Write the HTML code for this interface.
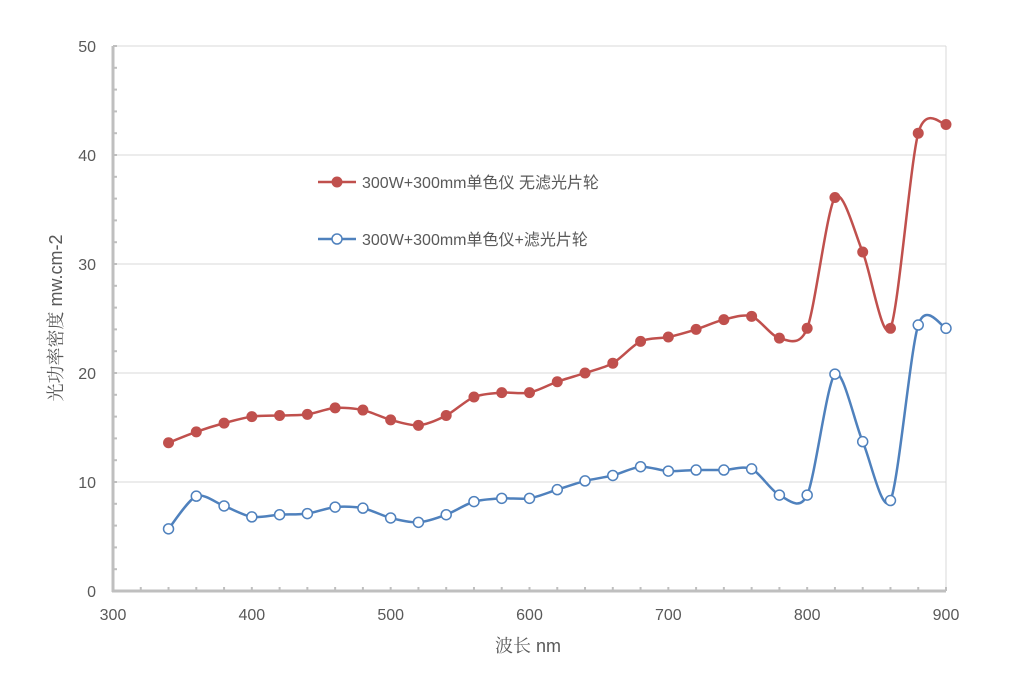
<!DOCTYPE html>
<html><head><meta charset="utf-8"><style>
body{margin:0;background:#fff;}
svg text{font-family:"Liberation Sans","Noto Sans CJK SC",sans-serif;fill:#595959;}
svg text.serif{font-family:"Liberation Sans","Noto Serif CJK SC",serif;}
</style></head><body>
<svg id="s" width="1025" height="677" xmlns="http://www.w3.org/2000/svg">
<rect width="1025" height="677" fill="#fff"/>
<g id="grid" stroke="#d9d9d9" stroke-width="1"></g>
<line x1="946" y1="46" x2="946" y2="591" stroke="#d9d9d9"/>
<g id="axes"></g>
<g id="series"></g>
<g font-size="16" text-anchor="end" id="ylab"></g>
<g font-size="16" text-anchor="middle" id="xlab"></g>
<text class="serif" x="528" y="652" font-size="18" text-anchor="middle">波长 nm</text>
<text class="serif" transform="translate(62,318) rotate(-90)" font-size="18" text-anchor="middle">光功率密度 mw.cm-2</text>
<line x1="318" y1="182" x2="356" y2="182" stroke="#c0504d" stroke-width="2.5"/>
<circle cx="337" cy="182" r="5.5" fill="#c0504d"/>
<text x="362" y="188" font-size="16">300W+300mm单色仪  无滤光片轮</text>
<line x1="318" y1="239" x2="356" y2="239" stroke="#4f81bd" stroke-width="2.5"/>
<circle cx="337" cy="239" r="5" fill="#fff" stroke="#4f81bd" stroke-width="1.5"/>
<text x="362" y="245" font-size="16">300W+300mm单色仪+滤光片轮</text>
</svg>
<script>
const X=v=>113+(v-300)*833/600, Y=v=>591-v*10.9;
const NS="http://www.w3.org/2000/svg";
function el(p,t,a){const e=document.createElementNS(NS,t);for(const k in a)e.setAttribute(k,a[k]);document.getElementById(p).appendChild(e);return e;}
for(let v=10;v<=50;v+=10)el("grid","line",{x1:113,x2:946,y1:Y(v),y2:Y(v)});
for(let v=0;v<=50;v+=10){const t=el("ylab","text",{x:96,y:Y(v)+6});t.textContent=v;}
for(let v=300;v<=900;v+=100){const t=el("xlab","text",{x:X(v),y:620});t.textContent=v;}
el("axes","line",{x1:113,y1:46,x2:113,y2:592,stroke:"#bfbfbf","stroke-width":3});
el("axes","line",{x1:112,y1:591,x2:946,y2:591,stroke:"#bfbfbf","stroke-width":3});
for(let v=2;v<=50;v+=2)el("axes","line",{x1:113,x2:117,y1:Y(v),y2:Y(v),stroke:"#bfbfbf","stroke-width":2});
for(let v=320;v<=900;v+=20)el("axes","line",{x1:X(v),x2:X(v),y1:591,y2:587,stroke:"#bfbfbf","stroke-width":2});
const xs=[];for(let v=340;v<=900;v+=20)xs.push(v);
const red=[13.6,14.6,15.4,16.0,16.1,16.2,16.8,16.6,15.7,15.2,16.1,17.8,18.2,18.2,19.2,20.0,20.9,22.9,23.3,24.0,24.9,25.2,23.2,24.1,36.1,31.1,24.1,42.0,42.8];
const blue=[5.7,8.7,7.8,6.8,7.0,7.1,7.7,7.6,6.7,6.3,7.0,8.2,8.5,8.5,9.3,10.1,10.6,11.4,11.0,11.1,11.1,11.2,8.8,8.8,19.9,13.7,8.3,24.4,24.1];
function path(d){const p=d.map((v,i)=>[X(xs[i]),Y(v)]);let s="M"+p[0];const k=0.14;
for(let i=0;i<p.length-1;i++){const p0=p[i-1]||p[i],p1=p[i],p2=p[i+1],p3=p[i+2]||p2;
const c1=[p1[0]+(p2[0]-p0[0])*k,p1[1]+(p2[1]-p0[1])*k],c2=[p2[0]-(p3[0]-p1[0])*k,p2[1]-(p3[1]-p1[1])*k];
s+=" C"+c1+" "+c2+" "+p2;}return [s,p];}
function draw(d,c,open){const [s,p]=path(d);el("series","path",{d:s,fill:"none",stroke:c,"stroke-width":2.5});
p.forEach(q=>el("series","circle",open?{cx:q[0],cy:q[1],r:5,fill:"#fff",stroke:c,"stroke-width":1.5}:{cx:q[0],cy:q[1],r:5.5,fill:c}));}
draw(red,"#c0504d",false);draw(blue,"#4f81bd",true);
</script>
</body></html>
